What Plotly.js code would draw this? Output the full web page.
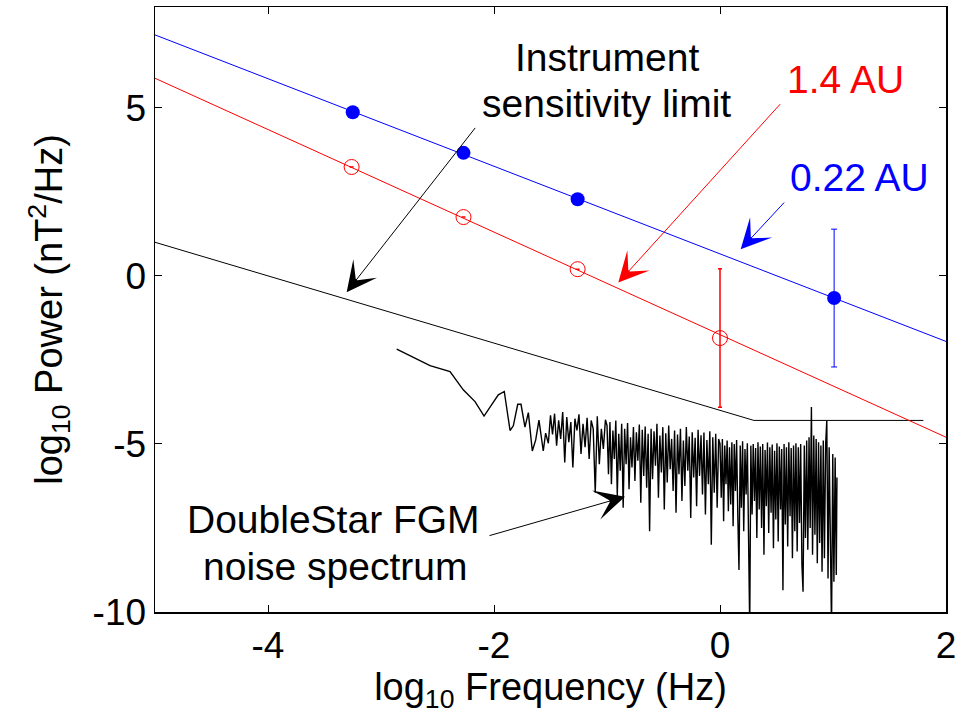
<!DOCTYPE html>
<html>
<head>
<meta charset="utf-8">
<script src="https://cdn.plot.ly/plotly-3.0.1.min.js"></script>
<style>html,body{margin:0;padding:0;background:#fff;}#chart{width:961px;height:719px;}</style>
</head>
<body>
<div id="chart"></div>
<script>
// ---------- data ----------
const fitX = [-5, 2];
const blueFitY = [7.17, -1.95];
const redFitY = [5.88, -4.80];

const bluePtsX = [-3.25, -2.27, -1.26, 1.01];
const bluePtsY = [4.87, 3.66, 2.28, -0.66];
const blueErr = [0, 0, 0, 2.05];

const redPtsX = [-3.26, -2.27, -1.26, 0.0];
const redPtsY = [3.24, 1.75, 0.20, -1.85];
const redErr = [0, 0, 0, 2.06];

const sensX = [-5, 0.3, 1.8];
const sensY = [1.0, -4.3, -4.3];

const noiseX = [
 -2.861,-2.566,-2.389,-2.272,-2.168,-2.088,-1.962,-1.909,-1.858,-1.829,
 -1.790,-1.761,-1.726,-1.696,-1.661,-1.631,-1.602,-1.564,-1.543,-1.519,
 -1.500,-1.482,-1.464,-1.446,-1.428,-1.410,-1.392,-1.374,-1.356,-1.338,
 -1.320,-1.302,-1.284,-1.266,-1.248,-1.230,-1.212,-1.194,-1.176,-1.158,
 -1.140,-1.122,-1.104,-1.086,-1.068,-1.050,-1.032,-1.014,
 -1.000,-0.987,-0.974,-0.961,-0.948,-0.935,-0.922,-0.909,-0.896,-0.883,
 -0.870,-0.857,-0.844,-0.831,-0.818,-0.805,-0.792,-0.779,-0.766,-0.753,
 -0.740,-0.727,-0.714,-0.701,-0.688,-0.675,-0.662,-0.649,-0.636,-0.623,
 -0.610,-0.597,-0.584,-0.571,-0.558,-0.545,-0.532,-0.519,-0.506,-0.493,
 -0.480,-0.467,-0.454,-0.441,-0.428,-0.415,-0.402,-0.389,-0.376,-0.363,
 -0.350,-0.337,-0.324,-0.311,-0.298,-0.285,-0.272,-0.259,-0.246,-0.233,
 -0.220,-0.207,-0.194,-0.181,-0.168,-0.155,-0.142,-0.129,-0.116,-0.103,
 -0.090,-0.077,-0.064,-0.051,-0.038,-0.025,-0.012,
 0.000,0.011,0.021,0.032,0.042,0.053,0.063,0.074,0.084,0.095,
 0.105,0.116,0.126,0.137,0.147,0.158,0.168,0.179,0.189,0.200,
 0.210,0.221,0.231,0.242,0.252,0.263,0.273,0.284,0.294,0.305,
 0.315,0.326,0.336,0.347,0.357,0.368,0.378,0.389,0.399,0.410,
 0.420,0.431,0.441,0.452,0.462,0.473,0.483,0.494,0.504,0.515,
 0.525,0.536,0.546,0.557,0.567,0.578,0.588,0.599,0.609,0.620,
 0.630,0.641,0.651,0.662,0.672,0.683,0.693,0.704,0.714,0.725,
 0.735,0.746,0.756,0.767,0.777,0.788,0.798,0.809,0.819,0.830,
 0.840,0.851,0.861,0.872,0.882,0.893,0.903,0.914,0.924,0.935,
 0.945,0.956,0.966,0.977,0.987,0.998,1.008,1.019,1.029,1.035
];
const noiseY = [
 -2.18,-2.67,-2.85,-3.39,-3.74,-4.17,-3.54,-3.44,-4.60,-4.46,
 -3.82,-3.82,-4.50,-4.07,-5.21,-4.88,-4.29,-5.21,-4.68,-4.98,
 -4.15,-4.72,-4.10,-5.05,-4.30,-4.85,-4.05,-5.55,-4.20,-4.95,
 -4.35,-5.70,-4.25,-4.60,-4.12,-5.30,-4.40,-5.10,-4.22,-5.45,
 -4.30,-4.55,-6.45,-4.18,-5.60,-4.55,-5.15,-4.28,
 -4.45,-5.90,-4.35,-6.20,-4.60,-5.45,-4.30,-6.55,-4.70,-5.80,
 -4.40,-6.90,-4.55,-5.60,-4.38,-6.35,-4.80,-5.70,-4.50,-6.10,
 -4.65,-5.50,-4.42,-6.75,-4.58,-5.95,-4.48,-6.30,-4.70,-7.60,
 -4.55,-6.05,-4.62,-5.65,-4.40,-6.60,-4.75,-5.85,-4.50,-6.95,
 -4.68,-6.15,-4.45,-5.75,-4.85,-6.40,-4.60,-7.05,-4.72,-5.90,
 -4.55,-6.70,-4.90,-6.25,-4.50,-5.80,-4.78,-7.20,-4.65,-6.00,
 -4.82,-6.85,-4.58,-5.95,-4.74,-6.50,-4.66,-7.10,-4.88,-6.20,
 -4.62,-8.00,-4.80,-6.45,-4.70,-6.90,-4.85,
 -5.00,-6.60,-4.85,-7.30,-5.05,-6.20,-4.90,-7.00,-5.10,-6.80,
 -4.95,-7.45,-5.00,-6.40,-4.88,-7.20,-8.75,-5.05,-6.90,-4.92,
 -7.60,-5.15,-6.50,-4.98,-7.35,-10.50,-5.05,-7.10,-5.00,-6.70,
 -5.12,-7.80,-4.95,-6.95,-5.08,-7.50,-5.00,-8.30,-5.18,-6.85,
 -4.96,-7.65,-5.10,-7.05,-5.02,-8.10,-5.20,-7.25,-4.98,-7.90,
 -5.08,-6.95,-5.15,-9.35,-5.00,-7.40,-5.10,-8.05,-4.95,-7.15,
 -5.12,-8.40,-5.05,-7.60,-4.98,-8.20,-5.10,-7.35,-5.00,-8.60,
 -9.40,-5.05,-7.80,-4.90,-8.15,-4.80,-7.50,-3.90,-8.30,-4.75,
 -7.70,-4.85,-8.55,-4.95,-7.95,-5.05,-8.80,-4.90,-8.40,-5.00,
 -4.30,-9.00,-5.10,-8.60,-10.50,-5.30,-9.10,-5.40,-8.90,-6.00
];

const xTickVals = [-4, -2, 0, 2];
const xTickText = ['-4', '-2', '0', '2'];
const yTickVals = [-10, -5, 0, 5];
const yTickText = ['-10', '-5', '0', '5'];

// ---------- traces ----------
const FONT = 'Arial, "Liberation Sans", Helvetica, sans-serif';
const traces = [
  {x: noiseX, y: noiseY, mode: 'lines', line: {color: '#000', width: 1.4}, hoverinfo: 'skip'},
  {x: sensX, y: sensY, mode: 'lines', line: {color: '#000', width: 1}},
  {x: fitX, y: redFitY, mode: 'lines', line: {color: '#ff0000', width: 1}},
  {x: fitX, y: blueFitY, mode: 'lines', line: {color: '#0000ff', width: 1}},
  {x: redPtsX, y: redPtsY, mode: 'markers',
   marker: {symbol: 'circle-open', size: 15, color: '#ff0000', line: {width: 1, color: '#ff0000'}},
   error_y: {type: 'data', array: redErr, visible: true, color: '#ff0000', thickness: 1.5, width: 2}},
  {x: bluePtsX, y: bluePtsY, mode: 'markers',
   marker: {symbol: 'circle', size: 14, color: '#0000ff'},
   error_y: {type: 'data', array: blueErr, visible: true, color: '#0000ff', thickness: 1, width: 3}}
];

function label(text, x, y, color) {
  return {text: text, x: x, y: y, xref: 'x', yref: 'y', showarrow: false,
          xanchor: 'center', yanchor: 'middle',
          font: {family: FONT, size: 39, color: color}};
}
function arrow(hx, hy, tx, ty, color) {
  return {text: ' ', x: hx, y: hy, ax: tx, ay: ty, xref: 'x', yref: 'y', axref: 'x', ayref: 'y',
          showarrow: true, arrowhead: 3, arrowsize: 5, arrowwidth: 1, arrowcolor: color, standoff: 0,
          font: {size: 1}};
}

const layout = {
  width: 961, height: 719,
  margin: {l: 155, r: 15, t: 7, b: 107},
  paper_bgcolor: '#fff', plot_bgcolor: '#fff',
  showlegend: false,
  font: {family: FONT, size: 37, color: '#000'},
  xaxis: {
    range: [-5, 2], tickvals: xTickVals, ticktext: xTickText,
    ticks: 'inside', ticklen: 7, tickwidth: 1, tickcolor: '#000',
    showline: true, linecolor: '#000', linewidth: 1.5, mirror: 'ticks',
    showgrid: false, zeroline: false, automargin: false,
    tickfont: {family: FONT, size: 37, color: '#000'},
    title: {text: 'log<sub>10</sub> Frequency (Hz)', font: {family: FONT, size: 38, color: '#000'}, standoff: 4}
  },
  yaxis: {
    range: [-10, 8], tickvals: yTickVals, ticktext: yTickText,
    ticks: 'inside', ticklen: 7, tickwidth: 1, tickcolor: '#000',
    showline: true, linecolor: '#000', linewidth: 1.5, mirror: 'ticks',
    showgrid: false, zeroline: false, automargin: false,
    tickfont: {family: FONT, size: 37, color: '#000'},
    title: {text: 'log<sub>10</sub> Power (nT<sup>2</sup>/Hz)', font: {family: FONT, size: 38, color: '#000'}, standoff: 18}
  },
  annotations: [
    label('Instrument', -1.004, 6.51, '#000'),
    label('sensitivity limit', -1.004, 5.14, '#000'),
    label('1.4 AU', 1.110, 5.84, '#ff0000'),
    label('0.22 AU', 1.238, 2.94, '#0000ff'),
    label('DoubleStar FGM', -3.422, -7.25, '#000'),
    label('noise spectrum', -3.407, -8.65, '#000'),
    arrow(-3.304, -0.485, -2.153, 4.46, '#000'),
    arrow(-0.900, -0.20, 0.546, 5.16, '#ff0000'),
    arrow(0.183, 0.79, 0.581, 2.23, '#0000ff'),
    arrow(-0.841, -6.57, -2.053, -7.74, '#000')
  ]
};

Plotly.newPlot('chart', traces, layout, {staticPlot: true, displayModeBar: false});
</script>
</body>
</html>
